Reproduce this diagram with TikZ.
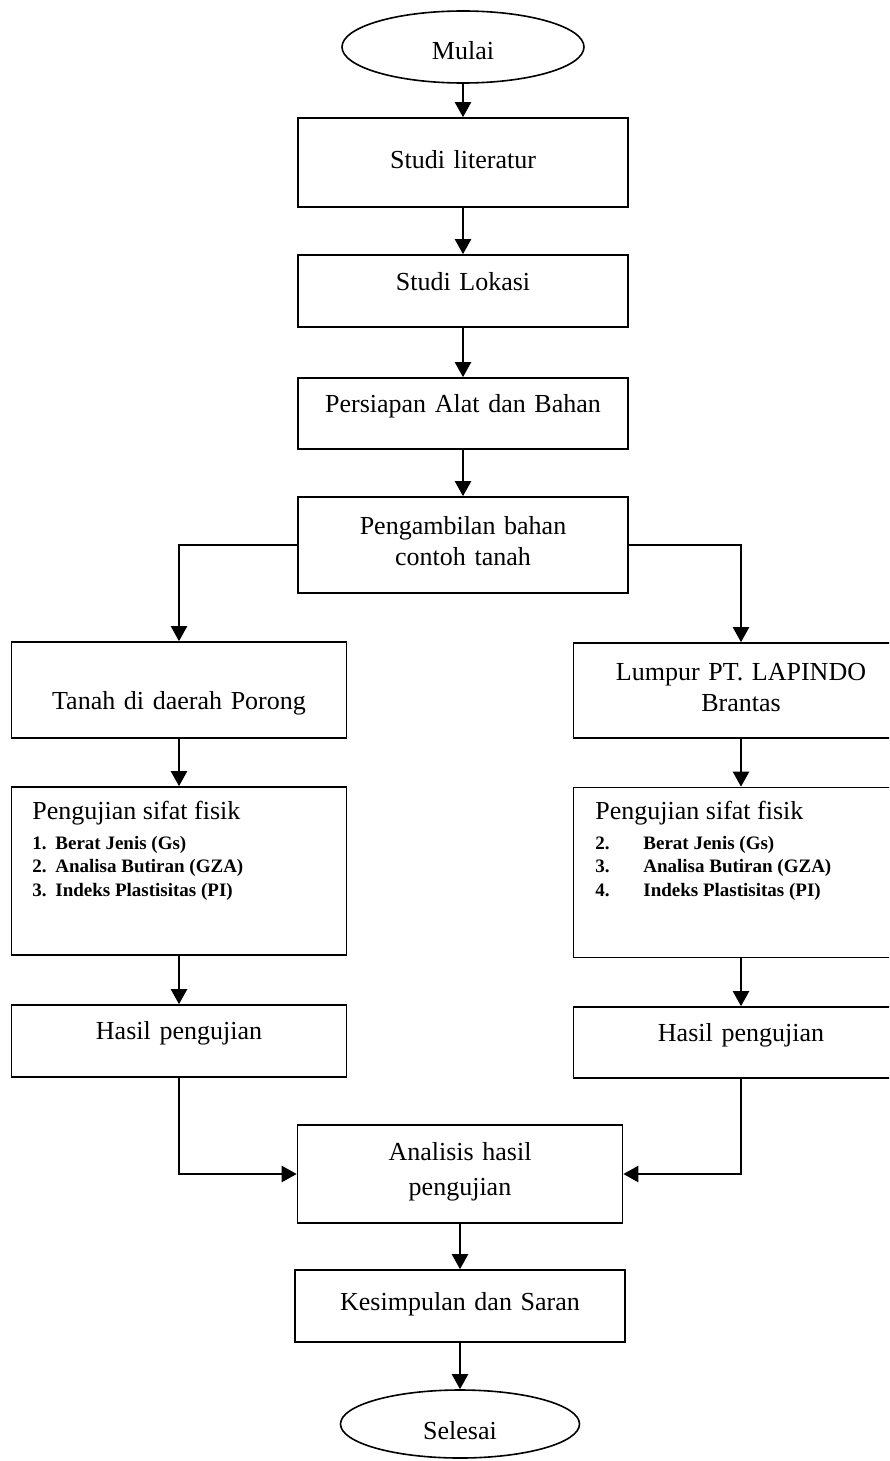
\documentclass[tikz,border=0pt]{standalone}
\usepackage{fontspec}
\setmainfont{Liberation Serif}
\usetikzlibrary{arrows.meta,shapes.geometric}
\newcommand{\teks}{\fontsize{13}{15.5}\selectfont}
\newcommand{\isi}{\fontsize{9.5}{11.75}\selectfont\bfseries}
\begin{document}
\begin{tikzpicture}[x=0.5pt,y=-0.5pt]
\tikzstyle{every node}+=[inner sep=0pt]
\tikzstyle{kotak}=[draw=black, line width=0.8pt, align=center, font=\teks, text width=165pt]
\tikzstyle{lebar}=[text width=167.5pt]
\tikzstyle{oval}=[draw=black, ellipse, line width=0.8pt, font=\teks, minimum width=121pt, minimum height=36pt]
\tikzstyle{panah}=[black, line width=1.1pt, -{Triangle[length=7.5pt,width=8pt]}]
\useasboundingbox (0,0) rectangle (889,1461);
\clip (0,0) rectangle (889,1461);
\node [oval, text height=16pt, text depth=3pt] (mulai) at (463,47) {Mulai};
\node [kotak, text height=25.5pt, text depth=19pt] (lit) at (463,162.5) {Studi literatur};
\node [kotak, text height=17.5pt, text depth=18.5pt] (lok) at (463,291) {Studi Lokasi};
\node [kotak, text height=17pt, text depth=18.5pt] (alat) at (463,413.5) {Persiapan Alat dan Bahan};
\node [kotak, text height=18.5pt, text depth=29.5pt] (ambil) at (463,545) {Pengambilan bahan\\contoh tanah};
\node [kotak, lebar, text height=33.5pt, text depth=14.5pt] (tanah) at (179,690) {Tanah di daerah Porong};
\node [kotak, lebar, text height=18.5pt, text depth=29pt] (lumpur) at (741,690.5) {Lumpur PT. LAPINDO\\Brantas};
\node [kotak, lebar, text height=84pt, text depth=0pt] (ujiA) at (179,871) {};
\node [kotak, lebar, text height=85pt, text depth=0pt] (ujiB) at (741,872.5) {};
\node [anchor=base west, font=\teks] (judulA) at (32,819) {Pengujian sifat fisik};
\node [anchor=base west, font=\isi] (isiA) at (32,849) {\begin{tabular}[t]{@{}p{11.5pt}@{}l@{}}1.&Berat Jenis (Gs)\\2.&Analisa Butiran (GZA)\\3.&Indeks Plastisitas (PI)\end{tabular}};
\node [anchor=base west, font=\teks] (judulB) at (595,819) {Pengujian sifat fisik};
\node [anchor=base west, font=\isi] (isiB) at (595,849) {\begin{tabular}[t]{@{}p{24pt}@{}l@{}}2.&Berat Jenis (Gs)\\3.&Analisa Butiran (GZA)\\4.&Indeks Plastisitas (PI)\end{tabular}};
\node [kotak, lebar, text height=17pt, text depth=19pt] (hasilA) at (179,1041) {Hasil pengujian};
\node [kotak, lebar, text height=17pt, text depth=18.5pt] (hasilB) at (741,1042.5) {Hasil pengujian};
\node [kotak, text width=162.5pt, text height=17.5pt, text depth=31.5pt] (analisis) at (460,1174) {Analisis hasil\\[2pt]pengujian};
\node [kotak, text height=20pt, text depth=16pt] (simpul) at (460,1306) {Kesimpulan dan Saran};
\node [oval, minimum width=119.5pt, minimum height=34pt, text height=17.5pt, text depth=2.5pt] (selesai) at (460,1424) {Selesai};
\draw [panah] (mulai) -- (lit);
\draw [panah] (lit) -- (lok);
\draw [panah] (lok) -- (alat);
\draw [panah] (alat) -- (ambil);
\draw [panah] (ambil.west) -| (tanah.north);
\draw [panah] (ambil.east) -| (lumpur.north);
\draw [panah] (tanah) -- (ujiA);
\draw [panah] (lumpur) -- (ujiB);
\draw [panah] (ujiA) -- (hasilA);
\draw [panah] (ujiB) -- (hasilB);
\draw [panah] (hasilA.south) |- (analisis.west);
\draw [panah] (hasilB.south) |- (analisis.east);
\draw [panah] (analisis) -- (simpul);
\draw [panah] (simpul) -- (selesai);
\end{tikzpicture}
\end{document}
